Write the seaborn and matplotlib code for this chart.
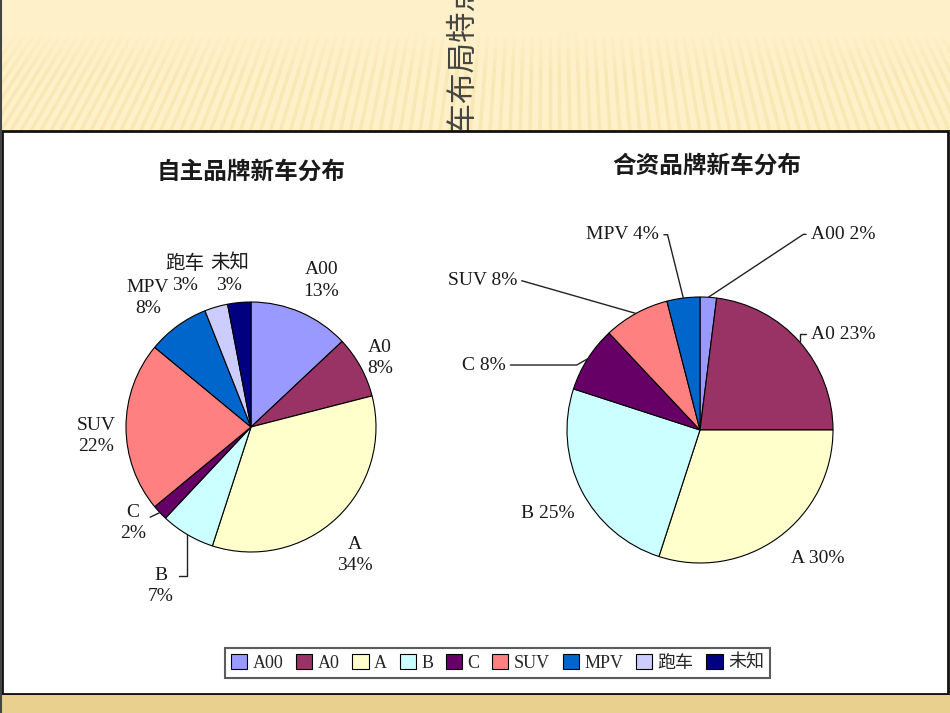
import numpy as np
import matplotlib
matplotlib.use('Agg')
import matplotlib.pyplot as plt
from matplotlib.patches import Rectangle
import seaborn as sns

categories = ['A00', 'A0', 'A', 'B', 'C', 'SUV', 'MPV', '跑车', '未知']
zizhu_share = [13, 8, 34, 7, 2, 22, 8, 3, 3]
hezi_categories = ['A00', 'A0', 'A', 'B', 'C', 'SUV', 'MPV']
hezi_share = [2, 23, 30, 25, 8, 8, 4]
colors = ['#9999FF', '#993366', '#FFFFCC', '#CCFFFF', '#660066',
          '#FF8080', '#0066CC', '#CCCCFF', '#000080']

sns.set_theme(style='white')
plt.rcParams['font.family'] = ['Liberation Serif', 'Noto Sans CJK SC']
palette = dict(zip(categories, sns.color_palette(colors)))

W, H = 950, 713
fig = plt.figure(figsize=(W / 100, H / 100), dpi=100, facecolor='#FEF1C9')

# slide background
bg = fig.add_axes([0, 0, 1, 1], zorder=0)
bg.set_xlim(0, W)
bg.set_ylim(H, 0)
bg.axis('off')
fx, fy = 550, -750
for xb in np.arange(-150, 1100, 10):
    t = (132 - 36) / (132 - fy)
    bg.plot([xb, xb + (fx - xb) * t], [132, 36], color='#F5DFA3',
            lw=2.5, alpha=0.55, zorder=1, solid_capstyle='butt')
grad = np.zeros((50, 2, 4))
grad[..., :3] = matplotlib.colors.to_rgb('#FEF1C9')
grad[..., 3] = np.linspace(1, 0, 50)[:, None]
bg.imshow(grad, extent=(0, W, 80, 30), aspect='auto', zorder=1.5)
bg.text(463, 162, '新车布局特点', rotation=90, rotation_mode='anchor',
        ha='left', va='center', fontsize=22, color='#444444',
        family=['Noto Sans CJK SC'], zorder=2)
bg.add_patch(Rectangle((1.5, 131), 946, 563, fc='white', ec='#111111',
                       lw=2, zorder=3))
bg.add_patch(Rectangle((0, 695), W, 18, fc='#E9D08E', ec='none', zorder=3))
bg.plot([0.8, 0.8], [0, H], color='#444444', lw=1.5, zorder=4)

bg.text(251, 172, '自主品牌新车分布', ha='center', va='center', fontsize=17,
        fontweight='bold', family=['Noto Sans CJK SC'], color='#1a1a1a', zorder=5)
bg.text(707, 166, '合资品牌新车分布', ha='center', va='center', fontsize=17,
        fontweight='bold', family=['Noto Sans CJK SC'], color='#1a1a1a', zorder=5)


def pie_axes(cx, cy, r, lim=2.2):
    w = 2 * lim * r
    ax = fig.add_axes([(cx - w / 2) / W, (H - cy - w / 2) / H, w / W, w / H],
                      zorder=1)
    ax.patch.set_visible(False)
    return ax, lim


def draw_pie(ax, lim, names, values):
    wedges, _ = ax.pie(values, colors=[palette[n] for n in names],
                       startangle=90, counterclock=False,
                       wedgeprops=dict(edgecolor='black', linewidth=0.8))
    ax.set_xlim(-lim, lim)
    ax.set_ylim(-lim, lim)
    ax.set_aspect('equal')
    ax.axis('off')
    return wedges


def put_labels(ax, wedges, names, values, style, sep):
    for w, n, v in zip(wedges, names, values):
        a, f, ha, leader = style[n]
        th = np.deg2rad((w.theta1 + w.theta2) / 2)
        edge = (np.cos(th), np.sin(th))
        pos = (f * np.sin(np.deg2rad(a)), f * np.cos(np.deg2rad(a)))
        txt = f'{n}{sep}{v}%'
        if leader is None:
            ax.text(*pos, txt, ha=ha, va='center', fontsize=14,
                    color='#1a1a1a', linespacing=1.35)
        else:
            conn, rel = leader
            ax.annotate(txt, xy=edge, xytext=pos, ha=ha, va='center',
                        fontsize=14, color='#1a1a1a', linespacing=1.35,
                        annotation_clip=False,
                        arrowprops=dict(arrowstyle='-', color='#222222',
                                        lw=1.0, shrinkA=1, shrinkB=0,
                                        relpos=rel, connectionstyle=conn))


left_style = {
    'A00': (25.6, 1.30, 'center', None),
    'A0': (61.9, 1.17, 'center', None),
    'A': (140.9, 1.32, 'center', None),
    'B': (209.5, 1.46, 'center', ('angle,angleA=0,angleB=90,rad=0', (1, 0.75))),
    'C': (230.9, 1.22, 'center', ('arc3', (1, 0.6))),
    'SUV': (266.7, 1.24, 'center', None),
    'MPV': (321.4, 1.32, 'center', None),
    '跑车': (336.5, 1.33, 'center', None),
    '未知': (352.0, 1.24, 'center', None),
}
right_style = {
    'A00': (29.5, 1.69, 'left', ('angle,angleA=0,angleB=33.5,rad=0', (0, 0.5))),
    'A0': (49.1, 1.10, 'left', ('angle,angleA=0,angleB=90,rad=0', (0, 0.5))),
    'A': (137.5, 1.31, 'center', None),
    'B': (241.1, 1.305, 'center', None),
    'C': (288.5, 1.54, 'right', ('angle,angleA=0,angleB=30,rad=0', (1, 0.5))),
    'SUV': (309.2, 1.775, 'right', ('angle,angleA=0,angleB=164,rad=0', (1, 0.5))),
    'MPV': (348.2, 1.50, 'right', ('angle,angleA=0,angleB=104,rad=0', (1, 0.5))),
}

ax1, lim1 = pie_axes(251, 427, 125)
w1 = draw_pie(ax1, lim1, categories, zizhu_share)
put_labels(ax1, w1, categories, zizhu_share, left_style, '\n')

ax2, lim2 = pie_axes(700, 430, 133)
w2 = draw_pie(ax2, lim2, hezi_categories, hezi_share)
put_labels(ax2, w2, hezi_categories, hezi_share, right_style, ' ')

leg = fig.legend(w1, categories, ncol=9, loc='center',
                 bbox_to_anchor=(497.5 / W, 1 - 663 / H), fontsize=13,
                 frameon=True, fancybox=False, edgecolor='#333333',
                 handlelength=0.9, handleheight=0.9, handletextpad=0.3,
                 columnspacing=0.7, borderpad=0.35)
leg.get_frame().set_linewidth(1.5)
leg.set_zorder(10)

fig.savefig('out.png', dpi=100, facecolor=fig.get_facecolor())
